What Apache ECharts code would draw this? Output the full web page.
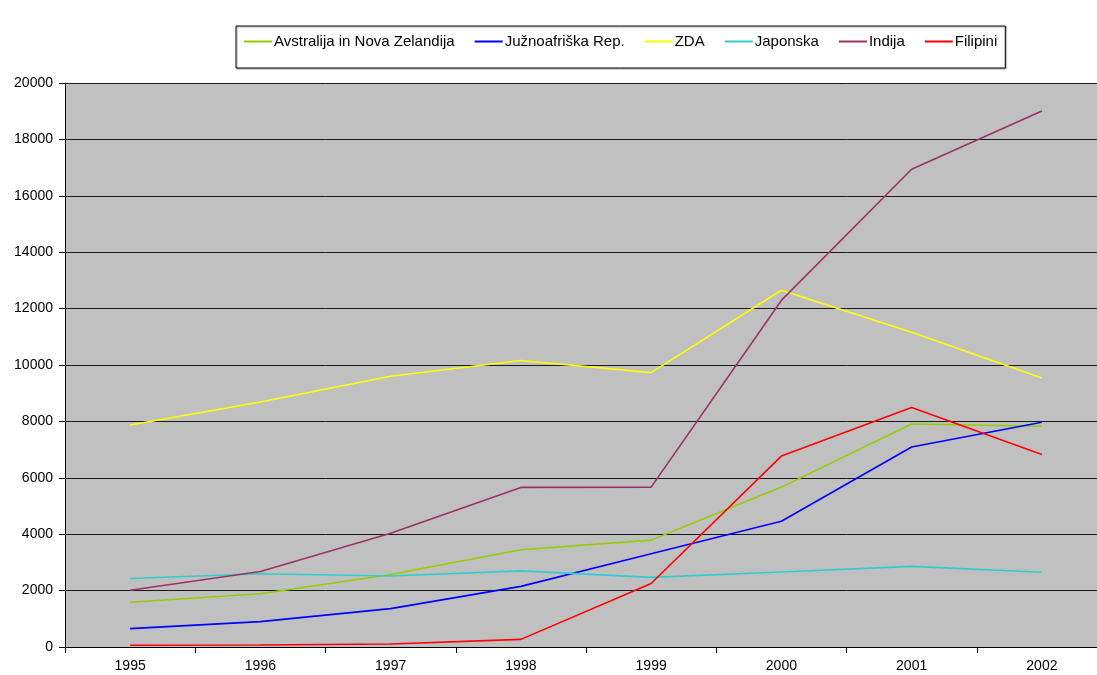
<!DOCTYPE html>
<html>
<head>
<meta charset="utf-8">
<script src="https://cdn.jsdelivr.net/npm/echarts@6/dist/echarts.min.js"></script>
<style>
  html, body { margin: 0; padding: 0; background: #fff; overflow: hidden; }
  /* the plot area runs slightly past the right edge of the window */
  #chart { width: 1110px; height: 675px; }
</style>
</head>
<body>
<div id="chart"></div>
<script>
// Years on the horizontal axis
const years = ['1995', '1996', '1997', '1998', '1999', '2000', '2001', '2002'];

// Series names as shown in the legend
const seriesNames = ['Avstralija in Nova Zelandija', 'Južnoafriška Rep.', 'ZDA', 'Japonska', 'Indija', 'Filipini'];

// Values per series, one per year
const avstralija = [1585, 1890, 2570, 3450, 3790, 5670, 7910, 7830];
const juznoafriska = [650, 900, 1360, 2150, 3310, 4460, 7090, 7970];
const zda = [7870, 8690, 9600, 10160, 9730, 12650, 11160, 9540];
const japonska = [2430, 2600, 2520, 2700, 2470, 2660, 2860, 2650];
const indija = [2010, 2680, 4030, 5660, 5670, 12290, 16940, 19010];
const filipini = [60, 70, 105, 270, 2250, 6770, 8490, 6830];

// Value-axis ticks
const yTicks = [0, 2000, 4000, 6000, 8000, 10000, 12000, 14000, 16000, 18000, 20000];

const seriesData = [avstralija, juznoafriska, zda, japonska, indija, filipini];
const colors = ['#99CC00', '#0000FF', '#FFFF00', '#33CCCC', '#993366', '#FF0000'];

const chart = echarts.init(document.getElementById('chart'), null, { renderer: 'canvas' });

const font = 'Liberation Sans, Arial, sans-serif';

chart.setOption({
  animation: false,
  color: colors,
  legend: {
    left: 236,
    top: 26,
    padding: [8, 8, 19, 8],
    itemGap: 20,
    itemWidth: 28,
    itemHeight: 12,
    backgroundColor: '#fff',
    borderColor: '#000',
    borderWidth: 1,
    shadowColor: 'rgba(0,0,0,0.35)',
    shadowOffsetX: 1,
    shadowOffsetY: 1,
    shadowBlur: 1,
    icon: 'path://M0,5 L28,5 L28,7 L0,7 Z',
    textStyle: { fontFamily: font, fontSize: 15, color: '#000', padding: [0, 0, 0, -3] },
    data: seriesNames
  },
  grid: {
    left: 65,
    right: 3,
    top: 83,
    bottom: 28,
    outerBoundsMode: 'none',
    show: true,
    backgroundColor: '#C0C0C0',
    borderWidth: 0
  },
  xAxis: {
    type: 'category',
    data: years,
    boundaryGap: true,
    axisLine: { lineStyle: { color: '#000', width: 1 } },
    axisTick: { show: true, interval: 0, length: 6, lineStyle: { color: '#000' } },
    axisLabel: { fontFamily: font, fontSize: 14, color: '#000', margin: 12, interval: 0 },
    splitLine: { show: false }
  },
  yAxis: {
    type: 'value',
    min: yTicks[0],
    max: yTicks[yTicks.length - 1],
    interval: yTicks[1] - yTicks[0],
    axisLine: { show: true, lineStyle: { color: '#000', width: 1 } },
    axisTick: { show: true, length: 6, lineStyle: { color: '#000' } },
    axisLabel: {
      fontFamily: font, fontSize: 14, color: '#000', margin: 12,
      formatter: (v) => String(v)
    },
    splitLine: { show: true, lineStyle: { color: '#1a1a1a', width: 1 } }
  },
  series: seriesNames.map((name, i) => ({
    name: name,
    type: 'line',
    data: seriesData[i],
    symbol: 'none',
    showSymbol: false,
    lineStyle: { width: 1.6, color: colors[i] },
    itemStyle: { color: colors[i] }
  }))
});
</script>
</body>
</html>
